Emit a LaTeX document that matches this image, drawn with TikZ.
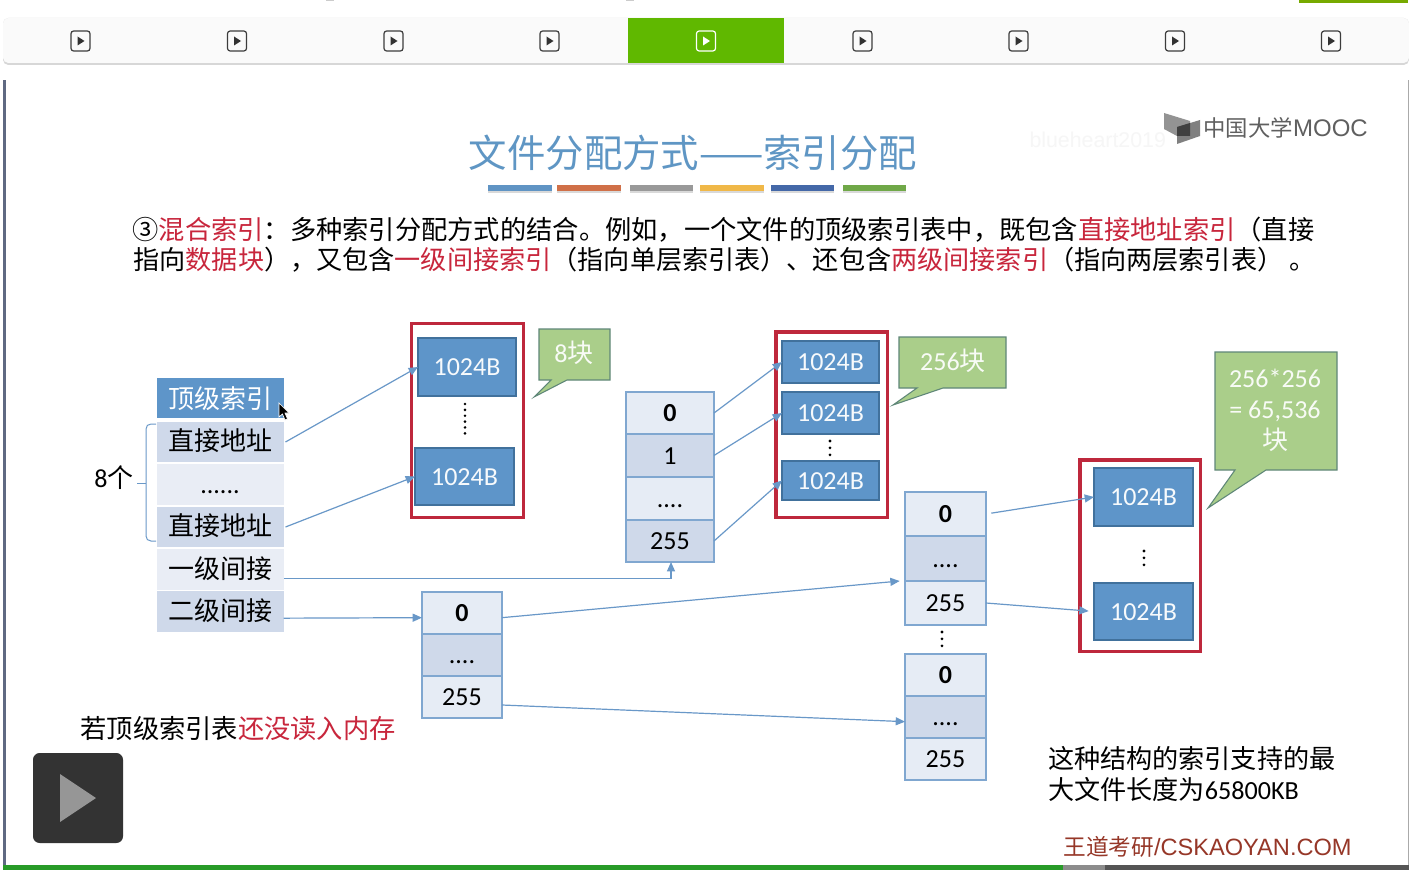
\documentclass[tikz,border=0pt]{standalone}
\usepackage{fontspec}
\setmainfont{Carlito}
\newfontfamily\cjk{Noto Sans CJK SC}
\newfontfamily\arial{Liberation Sans}
\usetikzlibrary{arrows.meta}
\newcommand{\cn}[1]{{\cjk #1}}
\newcommand{\hl}[1]{\textcolor{hlred}{\cn{#1}}}
\definecolor{hlred}{RGB}{200,38,60}
\definecolor{boxred}{RGB}{190,40,60}
\definecolor{linkblue}{RGB}{105,152,200}
\definecolor{blockblue}{RGB}{94,149,201}
\definecolor{tipgreen}{RGB}{170,206,138}
\tikzset{every picture/.style={line width=0.75pt},
  plain/.style={inner sep=0pt,outer sep=0pt,font=\fontsize{19.5pt}{23pt}\selectfont},
  rowcell/.style={plain,text height=13pt,text depth=0pt,align=center},
  headrow/.style={rowcell,text height=16pt,fill=blockblue,text=white,minimum width=95.25pt,minimum height=30pt},
  lightrow/.style={rowcell,fill={rgb, 255:red, 233; green, 237; blue, 245},minimum width=95.25pt,minimum height=30.5pt},
  darkrow/.style={rowcell,fill={rgb, 255:red, 207; green, 217; blue, 234},minimum width=95.25pt,minimum height=30.5pt},
  lightcell/.style={rowcell,draw=linkblue!85,line width=1.1pt,fill={rgb, 255:red, 230; green, 236; blue, 245}},
  darkcell/.style={rowcell,draw=linkblue!85,line width=1.1pt,fill={rgb, 255:red, 207; green, 217; blue, 234}},
  block/.style={plain,draw={rgb, 255:red, 65; green, 113; blue, 156},fill=blockblue,text=white!95!blockblue,line width=0.9pt,text height=13pt,text depth=0pt},
  redframe/.style={draw=boxred,line width=2.3pt},
  tipbox/.style={draw={rgb, 255:red, 95; green, 135; blue, 120},fill=tipgreen,line width=0.8pt},
  tiptext/.style={plain,text=white!92!tipgreen,align=center},
  link/.style={draw=linkblue,line width=0.9pt,-{Triangle[length=7pt,width=6pt]}},
  vdots/.style={line width=2.2pt,line cap=round,dash pattern=on 0pt off 4.4pt},
  shortdots/.style={line width=2.3pt,line cap=round,dash pattern=on 0pt off 5.2pt},
  icon/.style={draw={rgb, 255:red, 60; green, 60; blue, 60},line width=0.9pt,rounded corners=2pt},
  icontip/.style={fill={rgb, 255:red, 50; green, 50; blue, 50}}
}
\begin{document}
\begin{tikzpicture}[x=0.75pt,y=0.75pt,yscale=-1,xscale=1]
\useasboundingbox (0,0) rectangle (1409,870);
\fill[white] (0,0) rectangle (1409,870);

%Shape: top strip
\fill[fill={rgb, 255:red, 119; green, 170; blue, 0}] (1299,0) rectangle (1408,3);
\fill[gray!40] (326,0) rectangle (334,1.5);
\fill[gray!40] (626,0) rectangle (634,1.5);
%Shape: tab bar
\fill[rounded corners=4pt,fill={rgb, 255:red, 215; green, 215; blue, 215}] (3,18) rectangle (1409,65);
\fill[rounded corners=4pt,fill={rgb, 255:red, 250; green, 250; blue, 250}] (3,18) rectangle (1409,63);
\fill[fill={rgb, 255:red, 96; green, 184; blue, 0}] (628,18) rectangle (784,63);
%Shape: tab icons
\draw[icon] (71,31) rectangle (90,51);
\fill[icontip] (77.5,36.5) -- (84.5,41) -- (77.5,45.5) -- cycle;
\draw[icon] (227.5,31) rectangle (246.5,51);
\fill[icontip] (234,36.5) -- (241,41) -- (234,45.5) -- cycle;
\draw[icon] (384,31) rectangle (403,51);
\fill[icontip] (390.5,36.5) -- (397.5,41) -- (390.5,45.5) -- cycle;
\draw[icon] (540,31) rectangle (559,51);
\fill[icontip] (546.5,36.5) -- (553.5,41) -- (546.5,45.5) -- cycle;
\draw[icon,draw=white] (696.5,31) rectangle (715.5,51);
\fill[white] (703,36.5) -- (710,41) -- (703,45.5) -- cycle;
\draw[icon] (853,31) rectangle (872,51);
\fill[icontip] (859.5,36.5) -- (866.5,41) -- (859.5,45.5) -- cycle;
\draw[icon] (1009,31) rectangle (1028,51);
\fill[icontip] (1015.5,36.5) -- (1022.5,41) -- (1015.5,45.5) -- cycle;
\draw[icon] (1165.5,31) rectangle (1184.5,51);
\fill[icontip] (1172,36.5) -- (1179,41) -- (1172,45.5) -- cycle;
\draw[icon] (1321.5,31) rectangle (1340.5,51);
\fill[icontip] (1328,36.5) -- (1335,41) -- (1328,45.5) -- cycle;
%Shape: slide edges
\fill[fill={rgb, 255:red, 95; green, 105; blue, 130}] (3,80) rectangle (5.5,866);
\fill[fill={rgb, 255:red, 170; green, 170; blue, 170}] (1407.5,80) rectangle (1409,866);
\fill[fill={rgb, 255:red, 40; green, 155; blue, 40}] (3,865) rectangle (1063,870);
\fill[fill={rgb, 255:red, 140; green, 140; blue, 140}] (1063,865) rectangle (1105,870);
\fill[fill={rgb, 255:red, 85; green, 85; blue, 85}] (1105,865) rectangle (1409,870);

% Text Node
\draw (1029,140) node (mark) [anchor=west,inner sep=0pt,text={rgb, 255:red, 246; green, 246; blue, 246},font=\arial\fontsize{16pt}{18pt}\selectfont] {blueheart2019};
%Shape: logo
\fill[gray!85] (1164,113) -- (1190,121) -- (1190,136) -- (1177,136) -- (1164,129) -- cycle;
\fill[gray] (1177,127) -- (1200,120) -- (1200,136) -- (1177,144) -- cycle;
\fill[gray!50!black] (1177,127) -- (1190,123) -- (1190,136) -- (1177,136) -- cycle;
% Text Node
\draw (1203,128) node (logo) [anchor=west,inner sep=0pt,text={rgb, 255:red, 95; green, 95; blue, 95}] {\cn{\fontsize{16.8pt}{18pt}\selectfont 中国大学}\arial\fontsize{18pt}{20pt}\selectfont MOOC};

% Text Node
\draw (693,153) node (title) [inner sep=0pt,text={rgb, 255:red, 95; green, 150; blue, 196}] {\cn{\fontsize{28.8pt}{30pt}\selectfont 文件分配方式——索引分配}};
%Shape: title bars
\fill[gray!30] (488,187) rectangle (552,193);
\fill[gray!30] (557,187) rectangle (621,193);
\fill[gray!30] (630,187) rectangle (693,193);
\fill[gray!30] (700,187) rectangle (764,193);
\fill[gray!30] (771,187) rectangle (834,193);
\fill[gray!30] (843,187) rectangle (906,193);
\fill[fill={rgb, 255:red, 96; green, 148; blue, 196}] (488,185) rectangle (552,191);
\fill[fill={rgb, 255:red, 208; green, 112; blue, 72}] (557,185) rectangle (621,191);
\fill[fill={rgb, 255:red, 153; green, 153; blue, 153}] (630,185) rectangle (693,191);
\fill[fill={rgb, 255:red, 240; green, 184; blue, 72}] (700,185) rectangle (764,191);
\fill[fill={rgb, 255:red, 68; green, 104; blue, 168}] (771,185) rectangle (834,191);
\fill[fill={rgb, 255:red, 112; green, 168; blue, 72}] (843,185) rectangle (906,191);

% Text Node
\draw (132,230) node (lineone) [anchor=west,inner sep=0pt,font=\fontsize{19.7pt}{23pt}\selectfont] {\cn{③}\hl{混合索引}\cn{：多种索引分配方式的结合。例如，一个文件的顶级索引表中，既包含}\hl{直接地址索引}\cn{（直接}};
% Text Node
\draw (133,260) node (linetwo) [anchor=west,inner sep=0pt,font=\fontsize{19.6pt}{23pt}\selectfont] {\cn{指向}\hl{数据块}\cn{），又包含}\hl{一级间接索引}\cn{（指向单层索引表）、还包含}\hl{两级间接索引}\cn{（指向两层索引表） 。}};

% Top level table
\draw (220,398) node (tophead) [headrow] {\cn{顶级索引}};
\draw (220,442) node (topdirect) [darkrow] {\cn{直接地址}};
\draw (220,484.5) node (topdots) [lightrow] {......};
\draw (220,527) node (toplast) [darkrow] {\cn{直接地址}};
\draw (220,569.5) node (topone) [lightrow] {\cn{一级间接}};
\draw (220,611.5) node (toptwo) [darkrow] {\cn{二级间接}};
%Shape: brace
\draw[linkblue] (156,424) -- (151,424) .. controls (148,424) and (146,426) .. (146,429) -- (146,536) .. controls (146,539) and (148,541) .. (151,541) -- (156,541);
\draw[linkblue] (137,483) -- (146,483);
% Text Node
\draw (114,478) node (eight) [plain] {8\cn{个}};

% Direct blocks
\draw[redframe] (411.5,323.5) rectangle (523.5,517.5);
\draw (467,367) node (blockatop) [block,minimum width=73.5pt,minimum height=43.5pt] {1024B};
\draw (464.5,476.5) node (blockalast) [block,minimum width=74.25pt,minimum height=42.75pt] {1024B};
\draw[vdots] (465,404) -- (465,436);
%Shape: callout
\draw[tipbox] (539,329) -- (610,329) -- (610,380) -- (567,380) -- (534,397) -- (551,380) -- (539,380) -- cycle;
\draw (574,353) node (tipeight) [tiptext] {8\cn{块}};

% Single indirect table
\draw (670,413) node (onezero) [lightcell,minimum width=66pt,minimum height=31.5pt] {\textbf{0}};
\draw (670,455.5) node (oneone) [darkcell,minimum width=66pt,minimum height=32.25pt] {1};
\draw (670,498.5) node (onedots) [lightcell,minimum width=66pt,minimum height=32.25pt] {....};
\draw (670,541) node (onelast) [darkcell,minimum width=66pt,minimum height=31.5pt] {255};

% Single indirect blocks
\draw[redframe] (776,332) rectangle (887.5,517.5);
\draw (830.5,362) node (blockbtop) [block,minimum width=72.75pt,minimum height=31.5pt] {1024B};
\draw (830.5,413) node (blockbnext) [block,minimum width=72.75pt,minimum height=31.5pt] {1024B};
\draw (830.5,480.5) node (blockblast) [block,minimum width=72.75pt,minimum height=29.25pt] {1024B};
\draw[shortdots] (830,441) -- (830,455);
%Shape: callout
\draw[tipbox] (899,337) -- (1006,337) -- (1006,388) -- (943,388) -- (893,405) -- (917,388) -- (899,388) -- cycle;
\draw (953,361) node (tipsmall) [tiptext] {256\cn{块}};

% Double indirect first table
\draw (462,613) node (twozero) [lightcell,minimum width=60pt,minimum height=31.5pt] {\textbf{0}};
\draw (462,655) node (twodots) [darkcell,minimum width=60pt,minimum height=31.5pt] {....};
\draw (462,697) node (twolast) [lightcell,minimum width=60pt,minimum height=31.5pt] {255};

% Double indirect second tables
\draw (945.5,514) node (upzero) [lightcell,minimum width=60.75pt,minimum height=33pt] {\textbf{0}};
\draw (945.5,558.5) node (updots) [darkcell,minimum width=60.75pt,minimum height=33.75pt] {....};
\draw (945.5,603) node (uplast) [lightcell,minimum width=60.75pt,minimum height=33pt] {255};
\draw[shortdots] (942,632) -- (942,646);
\draw (945.5,675) node (lowzero) [lightcell,minimum width=60.75pt,minimum height=31.5pt] {\textbf{0}};
\draw (945.5,717) node (lowdots) [darkcell,minimum width=60.75pt,minimum height=31.5pt] {....};
\draw (945.5,759) node (lowlast) [lightcell,minimum width=60.75pt,minimum height=31.5pt] {255};

% Double indirect blocks
\draw[redframe] (1080,460) rectangle (1200.5,651.5);
\draw (1143.5,497) node (blockctop) [block,minimum width=74.25pt,minimum height=43.5pt] {1024B};
\draw (1143.5,611.5) node (blockclast) [block,minimum width=74.25pt,minimum height=42.75pt] {1024B};
\draw[shortdots] (1144,551) -- (1144,565);
%Shape: callout
\draw[tipbox] (1215,352) -- (1337,352) -- (1337,470) -- (1266,470) -- (1208,508) -- (1235,470) -- (1215,470) -- cycle;
\draw (1275,410) node (tiplarge) [tiptext,font=\fontsize{19.5pt}{23.3pt}\selectfont] {256*256\\= 65,536\\\cn{块}};

%Straight Lines
\draw[link] ([xshift=1.5pt]topdirect.east) -- (blockatop.west);
\draw[link] ([xshift=1.5pt]toplast.east) -- (blockalast.west);
\draw[link] ([yshift=6.5pt]topone.east) -| ([xshift=0.75pt]onelast.south);
\draw[link] ([yshift=5pt]toptwo.east) -- ([yshift=3.5pt]twozero.west);
\draw[link] ([yshift=3.5pt]twozero.east) -- ([xshift=-4pt]uplast.north west);
\draw[link] ([yshift=6pt]twolast.east) -- ([yshift=3.5pt]lowdots.west);
\draw[link] (onezero.east) -- (blockbtop.west);
\draw[link] (oneone.east) -- (blockbnext.west);
\draw[link] (onelast.east) -- (blockblast.west);
\draw[link,shorten <=4pt] (upzero.east) -- (blockctop.west);
\draw[link,shorten >=4pt] (uplast.east) -- (blockclast.west);

%Shape: cursor
\draw[fill=black,draw=white,line width=0.5pt] (279,403) -- (279,417) -- (282.5,414) -- (285,420) -- (287.5,419) -- (285,413) -- (289,413) -- cycle;

% Text Node
\draw (80,729) node (note) [anchor=west,inner sep=0pt,font=\fontsize{19.7pt}{22pt}\selectfont] {\cn{若顶级索引表}\hl{还没读入内存}};
% Text Node
\draw (1048,774) node (limit) [anchor=west,plain,align=left,font=\fontsize{19.6pt}{23.3pt}\selectfont] {\cn{这种结构的索引支持的最}\\\cn{大文件长度为}65800KB};
% Text Node
\draw (1207.5,847) node (brand) [inner sep=0pt,text={rgb, 255:red, 150; green, 55; blue, 40}] {\cn{\fontsize{17pt}{20pt}\selectfont 王道考研}\arial\fontsize{17.7pt}{20pt}\selectfont /CSKAOYAN.COM};

%Shape: play button
\fill[rounded corners=5pt,fill={rgb, 255:red, 51; green, 51; blue, 51}] (33,753) rectangle (123,843);
\fill[fill={rgb, 255:red, 150; green, 150; blue, 150}] (60,774) -- (96,798) -- (60,822) -- cycle;
\end{tikzpicture}
\end{document}
